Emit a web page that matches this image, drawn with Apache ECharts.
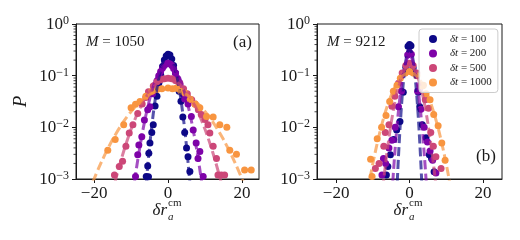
<!DOCTYPE html>
<html><head><meta charset="utf-8">
<script src="https://cdn.jsdelivr.net/npm/echarts@6/dist/echarts.min.js"></script>
<style>html,body{margin:0;padding:0;background:#fff}#c{width:520px;height:240px}</style>
</head><body><div id="c"></div>
<script>
// ---------- data ----------
const dtLabels = ['δt = 100', 'δt = 200', 'δt = 500', 'δt = 1000'];
const colors = ['#0d0887', '#7e03a8', '#cc4778', '#f89540'];
const massLabels = ['1050', '9212'];
const panelLabels = ['(a)', '(b)'];
const xTicks = [-20, 0, 20];
const minorTickVals = [0.002,0.003,0.004,0.005,0.006,0.007,0.008,0.009,
  0.02,0.03,0.04,0.05,0.06,0.07,0.08,0.09,
  0.2,0.3,0.4,0.5,0.6,0.7,0.8,0.9];

// panel (a) M = 1050 : histogram points [x, P]
const dotsA100 = [[-5.9,0.00112],[-5.3,0.0011],[-5.5,0.00178],[-5.2,0.00316],[-4.9,0.0050],[-4.4,0.0079],[-4.0,0.0112],[-3.5,0.026],[-3.0,0.040],[-2.5,0.071],[-2.0,0.105],[-1.5,0.151],[-1.0,0.20],[-0.5,0.24],[0,0.26],[0.5,0.25],[1.0,0.21],[1.5,0.158],[2.0,0.112],[2.5,0.079],[3.0,0.050],[3.5,0.032],[4.0,0.0158],[4.5,0.0079],[5.0,0.0040],[5.4,0.0027],[5.9,0.0014]];
const dotsA200 = [[-8.8,0.00112],[-8.2,0.00295],[-7.9,0.00457],[-7.1,0.0066],[-6.4,0.0138],[-5.5,0.0219],[-4.9,0.0251],[-4.2,0.0447],[-3.5,0.066],[-3.0,0.079],[-2.5,0.100],[-2.0,0.120],[-1.5,0.141],[-1.0,0.158],[-0.5,0.170],[0,0.174],[0.5,0.170],[1.0,0.158],[1.5,0.138],[2.0,0.112],[2.5,0.089],[3.0,0.074],[3.5,0.056],[4.0,0.0447],[4.5,0.0355],[5.4,0.0282],[6.3,0.0162],[6.8,0.0089],[7.6,0.0050],[8.1,0.0025],[8.6,0.0034],[9.5,0.00112]];
const dotsA500 = [[-14.5,0.0012],[-13.2,0.00174],[-12.3,0.0022],[-11.4,0.0043],[-10.5,0.0078],[-9.5,0.0112],[-8.2,0.0186],[-7.0,0.0282],[-6.0,0.038],[-5.3,0.049],[-4.0,0.063],[-3.0,0.076],[-2.0,0.083],[-1.0,0.087],[0,0.089],[1.0,0.087],[2.0,0.081],[3.2,0.071],[4.2,0.056],[5.2,0.0447],[6.4,0.034],[7.3,0.0282],[8.2,0.0219],[9.0,0.0178],[10.0,0.0141],[10.8,0.0112],[11.3,0.0078],[12.2,0.0043],[13.1,0.0025],[13.5,0.0012],[14.4,0.0012],[15.3,0.0012]];
const dotsA1000 = [[-16.3,0.0036],[-14.3,0.0058],[-12.0,0.0112],[-10.0,0.024],[-8.8,0.028],[-7.6,0.0316],[-6.0,0.040],[-4.4,0.050],[-3.0,0.054],[-1.7,0.056],[0,0.058],[1.2,0.056],[2.3,0.058],[3.5,0.050],[4.6,0.046],[6.0,0.035],[7.3,0.028],[8.6,0.024],[10.4,0.0162],[12.2,0.0158],[14.0,0.0112],[15.9,0.0100],[16.7,0.0036],[18.5,0.0030],[20.7,0.0015],[22.5,0.0015]];

// panel (b) M = 9212
const dotsB100 = [[-6.3,0.0012],[-5.9,0.00174],[-5.2,0.00295],[-4.3,0.0058],[-3.5,0.0089],[-2.6,0.0129],[-1.7,0.048],[-1.0,0.145],[-0.4,0.37],[0,0.40],[0.4,0.38],[1.0,0.141],[2.4,0.048],[2.8,0.025],[3.5,0.0112],[4.5,0.0063],[5.4,0.00295],[6.0,0.0025],[6.7,0.00138]];
const dotsB200 = [[-7.5,0.0012],[-7.1,0.0025],[-6.5,0.002],[-5.6,0.004],[-4.8,0.0056],[-3.9,0.010],[-3.0,0.025],[-2.2,0.050],[-1.3,0.112],[-0.5,0.25],[0,0.28],[0.5,0.26],[1.3,0.112],[2.2,0.050],[3.1,0.0224],[4.0,0.010],[4.9,0.0052],[5.6,0.0035],[6.3,0.0023],[7.2,0.0013]];
const dotsB500 = [[-9.3,0.0016],[-8.3,0.002],[-7.0,0.0043],[-6.6,0.0079],[-5.6,0.0112],[-4.8,0.0257],[-4.0,0.040],[-3.0,0.071],[-2.0,0.112],[-1.0,0.158],[0,0.174],[1.0,0.158],[2.0,0.112],[3.0,0.063],[4.3,0.034],[5.2,0.0234],[5.8,0.0079],[6.5,0.0043],[7.2,0.0027],[8.6,0.0016]];
const dotsB1000 = [[-10.6,0.0024],[-10.2,0.00112],[-8.8,0.006],[-7.6,0.010],[-6.4,0.017],[-5.4,0.0316],[-4.4,0.050],[-3.4,0.065],[-2.5,0.089],[-1.2,0.112],[0,0.120],[1.0,0.112],[2.0,0.100],[3.8,0.065],[3.5,0.063],[4.5,0.0447],[5.6,0.034],[6.6,0.0178],[7.8,0.0107],[8.8,0.005],[9.7,0.0023]];

// Gaussian fit curves (dashed)
const fitA100 = [[-7,0.00008],[-6,0.0007],[-5,0.00422],[-4,0.0183],[-3,0.0575],[-2,0.130],[-1,0.212],[0,0.25],[1,0.212],[2,0.130],[3,0.0575],[4,0.0183],[5,0.00422],[6,0.0007],[7,0.00008]];
const fitA200 = [[-10,0.00029],[-9,0.00097],[-8,0.00286],[-7,0.00746],[-6,0.0171],[-5,0.0344],[-4,0.0612],[-3,0.0957],[-2,0.1315],[-1,0.159],[0,0.170],[1,0.159],[2,0.1315],[3,0.0957],[4,0.0612],[5,0.0344],[6,0.0171],[7,0.00746],[8,0.00286],[9,0.00097],[10,0.00029]];
const fitA500 = [[-16,0.000285],[-14,0.00108],[-12,0.00344],[-10,0.00918],[-8,0.0205],[-6,0.0382],[-4,0.0596],[-2,0.0778],[0,0.0851],[2,0.0778],[4,0.0596],[6,0.0382],[8,0.0205],[10,0.00918],[12,0.00344],[14,0.00108],[16,0.000285]];
const fitA1000 = [[-24,0.00017],[-21,0.00067],[-18,0.00215],[-15,0.00579],[-12,0.0130],[-9,0.0245],[-6,0.0384],[-3,0.0502],[0,0.055],[3,0.0502],[6,0.0384],[9,0.0245],[12,0.0130],[15,0.00579],[18,0.00215],[21,0.00067],[24,0.00017]];
const fitB100 = [[-3.5,0.00049],[-3,0.00276],[-2.5,0.0119],[-2,0.0394],[-1.5,0.100],[-1,0.195],[-0.5,0.29],[0,0.331],[0.5,0.29],[1,0.195],[1.5,0.100],[2,0.0394],[2.5,0.0119],[3,0.00276],[3.5,0.00049]];
const fitB200 = [[-5,0.00028],[-4.5,0.00101],[-4,0.00318],[-3.5,0.00875],[-3,0.0210],[-2.5,0.0443],[-2,0.0813],[-1.5,0.1306],[-1,0.183],[-0.5,0.224],[0,0.24],[0.5,0.224],[1,0.183],[1.5,0.1306],[2,0.0813],[2.5,0.0443],[3,0.0210],[3.5,0.00875],[4,0.00318],[4.5,0.00101],[5,0.00028]];
const fitB500 = [[-8,0.00021],[-7,0.00101],[-6,0.00387],[-5,0.01206],[-4,0.0306],[-3,0.063],[-2,0.1057],[-1,0.144],[0,0.16],[1,0.144],[2,0.1057],[3,0.063],[4,0.0306],[5,0.01206],[6,0.00387],[7,0.00101],[8,0.00021]];
const fitB1000 = [[-12,0.00033],[-10,0.00197],[-8,0.00851],[-6,0.0266],[-4,0.0599],[-2,0.0976],[0,0.115],[2,0.0976],[4,0.0599],[6,0.0266],[8,0.00851],[10,0.00197],[12,0.00033]];

// ---------- chart ----------
const FONT = 'Liberation Serif, DejaVu Serif, serif';
const INK = '#1a1a1a';
const dots = [[dotsA100, dotsA200, dotsA500, dotsA1000], [dotsB100, dotsB200, dotsB500, dotsB1000]];
const fits = [[fitA100, fitA200, fitA500, fitA1000], [fitB100, fitB200, fitB500, fitB1000]];

const grids = [
  { left: 76, top: 24, width: 183, height: 155 },
  { left: 317, top: 24, width: 185, height: 155 }
];
const xRanges = [[-24.9, 24.6], [-25.2, 25.2]];

function supExp(v) {
  const e = Math.round(Math.log10(v));
  return '{b|10}{s|' + (e < 0 ? '\u2212' + (-e) : e) + '}';
}

const xAxes = grids.map((g, i) => ({
  type: 'value', gridIndex: i, min: xRanges[i][0], max: xRanges[i][1],
  axisLine: { show: true, onZero: false, lineStyle: { color: INK, width: 1 } },
  axisTick: { show: true, length: 4, customValues: xTicks, lineStyle: { color: INK } },
  axisLabel: { customValues: xTicks, margin: 6, color: INK, fontFamily: FONT, fontSize: 17,
    formatter: v => v < 0 ? '\u2212' + (-v) : String(v) },
  splitLine: { show: false }
}));
const yAxes = grids.map((g, i) => ({
  type: 'log', logBase: 10, gridIndex: i, min: 0.001, max: 1, splitNumber: 3,
  axisLine: { show: true, onZero: false, lineStyle: { color: INK, width: 1 } },
  axisTick: { show: true, length: 4, lineStyle: { color: INK } },
  axisLabel: { margin: 7, color: INK, formatter: supExp,
    rich: { b: { fontFamily: FONT, fontSize: 17, color: INK, verticalAlign: 'bottom' },
            s: { fontFamily: FONT, fontSize: 12, color: INK, verticalAlign: 'top', padding: [0, 0, 6, 0] } } },
  splitLine: { show: false },
  name: i === 0 ? 'P' : '', nameLocation: 'middle', nameGap: 46, nameRotate: 90,
  nameTextStyle: { fontFamily: FONT, fontSize: 19, fontStyle: 'italic', color: INK }
}));

const series = [];
for (let p = 0; p < 2; p++) {
  for (let k = 0; k < 4; k++) {
    series.push({
      type: 'scatter', name: dtLabels[k], xAxisIndex: p, yAxisIndex: p,
      data: dots[p][k], symbolSize: 7, itemStyle: { color: colors[k], opacity: 1 },
      z: 2, silent: true
    });
  }
  for (let k = 0; k < 4; k++) {
    series.push({
      type: 'line', name: 'fit' + k, xAxisIndex: p, yAxisIndex: p,
      data: fits[p][k], showSymbol: false, smooth: 0.3, clip: true,
      lineStyle: { color: colors[k], width: 3, type: [9, 4], opacity: 0.7 },
      z: 3, silent: true
    });
  }
  series.push({
    type: 'custom', xAxisIndex: p, yAxisIndex: p, silent: true, clip: false,
    data: minorTickVals.map(v => [0, v]), encode: { x: 0, y: 1 },
    renderItem: (params, api) => {
      const y = api.coord([0, api.value(1)])[1];
      const x0 = params.coordSys.x;
      return { type: 'line', shape: { x1: x0 - 2.5, y1: y, x2: x0, y2: y },
               style: { stroke: INK, lineWidth: 0.8 } };
    }
  });
}

const graphic = [
  { type: 'text', left: 86, top: 35, style: { text: '{i|M} = ' + massLabels[0], fontFamily: FONT, fontSize: 15, fill: INK,
      rich: { i: { fontFamily: FONT, fontSize: 15, fontStyle: 'italic', fill: INK } } } },
  { type: 'text', left: 327, top: 35, style: { text: '{i|M} = ' + massLabels[1], fontFamily: FONT, fontSize: 15, fill: INK,
      rich: { i: { fontFamily: FONT, fontSize: 15, fontStyle: 'italic', fill: INK } } } },
  { type: 'text', left: 233, top: 34, style: { text: panelLabels[0], fontFamily: FONT, fontSize: 17, fill: INK } },
  { type: 'text', left: 476, top: 148, style: { text: panelLabels[1], fontFamily: FONT, fontSize: 17, fill: INK } }
];
const xCenters = [167, 408];
xCenters.forEach(cx => {
  graphic.push({ type: 'text', x: cx, y: 211, style: { text: 'δr', fontFamily: FONT, fontSize: 17, fontStyle: 'italic', fill: INK, align: 'right', verticalAlign: 'middle' } });
  graphic.push({ type: 'text', x: cx + 1, y: 203, style: { text: 'cm', fontFamily: FONT, fontSize: 11, fill: INK, align: 'left', verticalAlign: 'middle' } });
  graphic.push({ type: 'text', x: cx + 1, y: 217, style: { text: 'a', fontFamily: FONT, fontSize: 11, fontStyle: 'italic', fill: INK, align: 'left', verticalAlign: 'middle' } });
});

const chart = echarts.init(document.getElementById('c'), null, { renderer: 'canvas' });
chart.setOption({
  animation: false,
  backgroundColor: '#fff',
  grid: grids.map(g => Object.assign({ show: true, borderColor: INK, borderWidth: 1, backgroundColor: 'transparent' }, g)),
  xAxis: xAxes,
  yAxis: yAxes,
  legend: {
    data: dtLabels, orient: 'vertical', left: 419, top: 29, icon: 'circle',
    itemWidth: 8, itemHeight: 8, itemGap: 2.5, padding: [4, 6, 4, 10],
    backgroundColor: 'rgba(255,255,255,0.8)', borderColor: '#cccccc', borderWidth: 1, borderRadius: 3,
    selectedMode: false,
    formatter: name => '{i|δt} = ' + name.split('= ')[1],
    textStyle: { fontFamily: FONT, fontSize: 11, color: INK, lineHeight: 12, padding: [0, 0, 0, 8],
      rich: { i: { fontFamily: FONT, fontSize: 11, fontStyle: 'italic', color: INK } } }
  },
  graphic: graphic,
  series: series
});
</script>
</body></html>
